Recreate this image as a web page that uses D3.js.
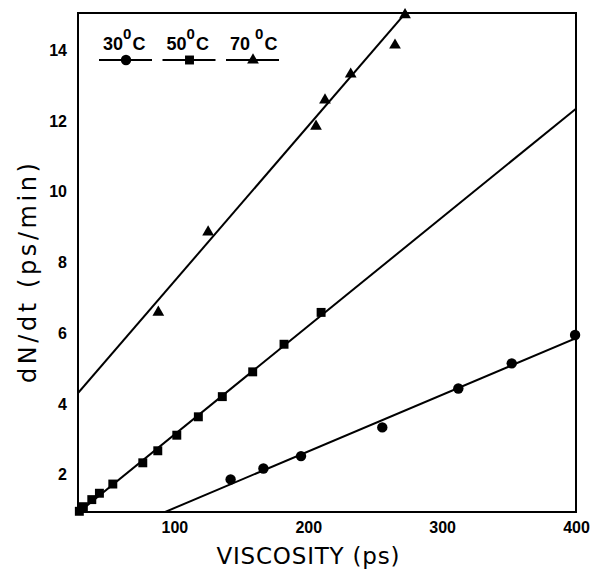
<!DOCTYPE html>
<html>
<head>
<meta charset="utf-8">
<script src="https://cdn.jsdelivr.net/npm/d3@7"></script>
<style>
  body { margin: 0; background: #fff; }
</style>
</head>
<body>
<div id="chart"></div>
<script>
// values
const viscosity30 = [142, 166.5, 194.6, 255.3, 312.1, 352, 399.3];
const rate30 = [1.87, 2.18, 2.53, 3.34, 4.44, 5.15, 5.95];
const viscosity50 = [29, 32, 38.3, 44, 54, 76.4, 87.6, 101.8, 117.9, 135.8, 158.5, 181.9, 209.6];
const rate50 = [0.97, 1.1, 1.3, 1.48, 1.74, 2.34, 2.68, 3.12, 3.64, 4.21, 4.91, 5.69, 6.59];
const viscosity70 = [88, 125.2, 205.8, 212.5, 231.7, 264.8, 272.3];
const rate70 = [6.59, 8.86, 11.85, 12.59, 13.32, 14.14, 15.0];
const fitSlope = [0.016, 0.0307, 0.0439];
const fitIntercept = [-0.538, 0.066, 3.08];
const temps = ["30", "50", "70"];
const xTicks = [100, 200, 300, 400];
const yTicks = [2, 4, 6, 8, 10, 12, 14];

const W = 596, H = 569;
const margin = { top: 13, right: 20, bottom: 57, left: 78 };
const width = W - margin.left - margin.right;
const height = H - margin.top - margin.bottom;

const symbols = [d3.symbolCircle, d3.symbolSquare, d3.symbolTriangle];
const symbolSize = [85, 80, 60];

const series = [
  { x: viscosity30, y: rate30 },
  { x: viscosity50, y: rate50 },
  { x: viscosity70, y: rate70 },
];

const svg = d3
  .select("#chart")
  .append("svg")
  .attr("width", W)
  .attr("height", H)
  .style("font-family", "'Liberation Sans', Arial, sans-serif");

const g = svg.append("g").attr("transform", `translate(${margin.left},${margin.top})`);

const x = d3.scaleLinear().domain([28, 400]).range([0, width]);
const y = d3.scaleLinear().domain([0.95, 15.05]).range([height, 0]);

g.append("defs")
  .append("clipPath")
  .attr("id", "plotClip")
  .append("rect")
  .attr("width", width)
  .attr("height", height);

// axes, labels only
g.append("g")
  .attr("transform", `translate(0,${height})`)
  .call(d3.axisBottom(x).tickValues(xTicks).tickSize(0).tickPadding(10))
  .call((a) => a.select(".domain").remove())
  .selectAll("text")
  .attr("fill", "#000")
  .style("font-size", "16px")
  .style("font-weight", "bold");

g.append("g")
  .call(d3.axisLeft(y).tickValues(yTicks).tickSize(0).tickPadding(11))
  .call((a) => a.select(".domain").remove())
  .selectAll("text")
  .attr("fill", "#000")
  .style("font-size", "16px")
  .style("font-weight", "bold");

// frame
g.append("rect")
  .attr("width", width)
  .attr("height", height)
  .attr("fill", "none")
  .attr("stroke", "#000")
  .attr("stroke-width", 2);

// fitted lines
const line = d3
  .line()
  .x((d) => x(d[0]))
  .y((d) => y(d[1]));

fitSlope.forEach((m, i) => {
  const pts = x.domain().map((v) => [v, fitIntercept[i] + m * v]);
  g.append("path")
    .datum(pts)
    .attr("clip-path", "url(#plotClip)")
    .attr("fill", "none")
    .attr("stroke", "#000")
    .attr("stroke-width", 2)
    .attr("d", line);
});

// points
series.forEach((s, i) => {
  g.append("g")
    .selectAll("path")
    .data(s.x.map((v, j) => [v, s.y[j]]))
    .join("path")
    .attr("transform", (d) => `translate(${x(d[0])},${y(d[1])})`)
    .attr("d", d3.symbol().type(symbols[i]).size(symbolSize[i]))
    .attr("fill", "#000");
});

// legend
const legend = g.append("g").attr("transform", "translate(21,0)");
temps.forEach((t, i) => {
  const lg = legend.append("g").attr("transform", `translate(${i * 63.5},0)`);
  lg.append("line")
    .attr("x1", 0)
    .attr("x2", 53)
    .attr("y1", 47)
    .attr("y2", 47)
    .attr("stroke", "#000")
    .attr("stroke-width", 2);
  lg.append("path")
    .attr("transform", "translate(27,47)")
    .attr("d", d3.symbol().type(symbols[i]).size(symbolSize[i]))
    .attr("fill", "#000");
  const txt = lg.append("text")
    .attr("x", 4)
    .attr("y", 37)
    .style("font-size", "18px")
    .style("font-weight", "bold");
  txt.append("tspan").text(t);
  txt.append("tspan")
    .attr("dx", i === 2 ? 5 : 0)
    .attr("dy", -11)
    .style("font-size", "15px")
    .text("0");
  txt.append("tspan")
    .attr("dx", 1)
    .attr("dy", 11)
    .text("C");
});

// axis titles
svg.append("text")
  .attr("x", 308)
  .attr("y", 564)
  .attr("text-anchor", "middle")
  .attr("textLength", 183)
  .attr("lengthAdjust", "spacing")
  .style("font-family", "'DejaVu Sans', sans-serif")
  .style("font-size", "23px")
  .text("VISCOSITY (ps)");

svg.append("text")
  .attr("transform", "translate(36,273) rotate(-90)")
  .attr("text-anchor", "middle")
  .attr("textLength", 220)
  .attr("lengthAdjust", "spacing")
  .style("font-family", "'DejaVu Sans', sans-serif")
  .style("font-size", "24px")
  .text("dN/dt (ps/min)");
</script>
</body>
</html>
